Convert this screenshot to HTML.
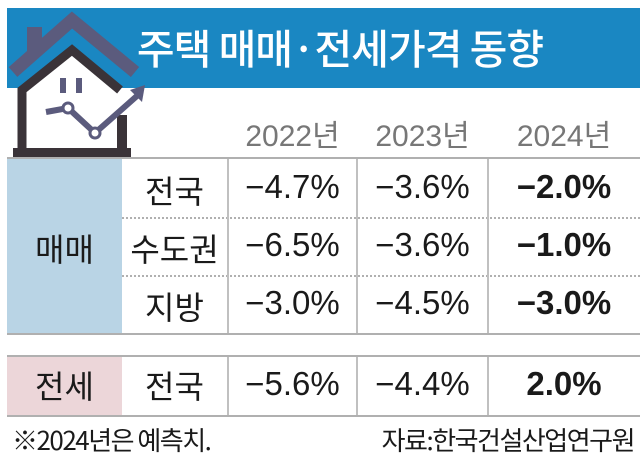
<!DOCTYPE html>
<html><head><meta charset="utf-8"><style>
body{margin:0;width:640px;height:467px;background:#fff;position:relative;overflow:hidden;font-family:"Liberation Sans Narrow","Liberation Sans","Noto Sans CJK KR",sans-serif;}
.a{position:absolute;}
.t{position:absolute;text-align:center;font-family:"Liberation Sans Narrow","Liberation Sans","Noto Sans CJK KR",sans-serif;color:#1a1a1a;}
.h{height:0;border-top:2px solid #b0b0b0;}
.d{height:0;border-top:2px dotted #b0b0b0;}
.v{width:0;border-left:2px solid #c0c0c0;}
</style></head><body>
<div class="a" style="left:7px;top:8px;width:633px;height:80px;background:#1a87c2"></div>
<div class="t" style="left:130px;top:19px;width:420px;font-size:41px;color:#fff;font-family:'Noto Sans CJK KR',sans-serif;line-height:54px;font-weight:500;letter-spacing:-1px">주택 매매·전세가격 동향</div>
<svg class="a" style="left:0;top:0" width="160" height="160">
<polyline points="13,72 72,20 135,72" fill="none" stroke="#5b5b7d" stroke-width="13" stroke-linejoin="miter"/>
<rect x="27" y="27" width="15" height="25" fill="#5b5b7d"/>
<polygon points="20,152 20,90 72,50 120,90 120,152" fill="#fff"/>
<polyline points="22,152 22,90 72,50 120,90" fill="none" stroke="#3a3338" stroke-width="9"/>
<rect x="117" y="115" width="10" height="40" fill="#3a3338"/>
<rect x="13" y="148" width="118" height="10" fill="#3a3338"/>
<rect x="60" y="78" width="6" height="15" fill="#5b5b7d"/><rect x="76" y="78" width="6" height="15" fill="#5b5b7d"/>
<polyline points="46,112 68,108 95,133 138,95" fill="none" stroke="#5b5b7d" stroke-width="6"/>
<polygon points="130,90 145,85 142,102" fill="#5b5b7d"/>
<circle cx="68" cy="108" r="5" fill="#fff" stroke="#5b5b7d" stroke-width="3"/>
<circle cx="95" cy="133" r="5" fill="#fff" stroke="#5b5b7d" stroke-width="3"/>
</svg>
<div class="t" style="left:228px;top:111px;width:129px;font-size:30px;color:#777">2022년</div>
<div class="t" style="left:357px;top:111px;width:131px;font-size:30px;color:#777">2023년</div>
<div class="t" style="left:488px;top:111px;width:152px;font-size:30px;color:#777">2024년</div>
<div class="a h" style="left:7px;top:157px;width:633px"></div>
<div class="a" style="left:7px;top:159px;width:115px;height:174px;background:#b9d4e5"></div>
<div class="a d" style="left:122px;top:217px;width:518px"></div>
<div class="a d" style="left:122px;top:275px;width:518px"></div>
<div class="a h" style="left:7px;top:333px;width:633px"></div>
<div class="a v" style="left:227px;top:159px;height:174px"></div>
<div class="a v" style="left:356px;top:159px;height:174px"></div>
<div class="a v" style="left:487px;top:159px;height:174px"></div>
<div class="a h" style="left:7px;top:355px;width:633px"></div>
<div class="a" style="left:7px;top:357px;width:115px;height:58px;background:#ecd6d9"></div>
<div class="a h" style="left:7px;top:415px;width:633px"></div>
<div class="a v" style="left:227px;top:357px;height:58px"></div>
<div class="a v" style="left:356px;top:357px;height:58px"></div>
<div class="a v" style="left:487px;top:357px;height:58px"></div>
<div class="t" style="left:7px;top:225px;width:115px;font-size:32px;font-family:'Noto Sans CJK KR',sans-serif">매매</div>
<div class="t" style="left:122px;top:167px;width:105px;font-size:32px;font-family:'Noto Sans CJK KR',sans-serif">전국</div>
<div class="t" style="left:122px;top:225px;width:105px;font-size:32px;font-family:'Noto Sans CJK KR',sans-serif">수도권</div>
<div class="t" style="left:122px;top:283px;width:105px;font-size:32px;font-family:'Noto Sans CJK KR',sans-serif">지방</div>
<div class="t" style="left:7px;top:362px;width:115px;font-size:32px;font-family:'Noto Sans CJK KR',sans-serif">전세</div>
<div class="t" style="left:122px;top:362px;width:105px;font-size:32px;font-family:'Noto Sans CJK KR',sans-serif">전국</div>
<div class="t" style="left:228px;top:168px;width:129px;font-size:33px">−4.7%</div>
<div class="t" style="left:357px;top:168px;width:131px;font-size:33px">−3.6%</div>
<div class="t" style="left:488px;top:168px;width:152px;font-size:33px;font-weight:bold">−2.0%</div>
<div class="t" style="left:228px;top:226px;width:129px;font-size:33px">−6.5%</div>
<div class="t" style="left:357px;top:226px;width:131px;font-size:33px">−3.6%</div>
<div class="t" style="left:488px;top:226px;width:152px;font-size:33px;font-weight:bold">−1.0%</div>
<div class="t" style="left:228px;top:284px;width:129px;font-size:33px">−3.0%</div>
<div class="t" style="left:357px;top:284px;width:131px;font-size:33px">−4.5%</div>
<div class="t" style="left:488px;top:284px;width:152px;font-size:33px;font-weight:bold">−3.0%</div>
<div class="t" style="left:228px;top:365px;width:129px;font-size:33px">−5.6%</div>
<div class="t" style="left:357px;top:365px;width:131px;font-size:33px">−4.4%</div>
<div class="t" style="left:488px;top:365px;width:152px;font-size:33px;font-weight:bold">2.0%</div>
<div class="a" style="left:12px;top:422px;font-size:26px;color:#1a1a1a;font-family:'Noto Sans CJK KR',sans-serif;line-height:36px;letter-spacing:-1.5px">※2024년은 예측치.</div>
<div class="a" style="right:6px;top:422px;font-size:26px;color:#1a1a1a;font-family:'Noto Sans CJK KR',sans-serif;line-height:36px;letter-spacing:-1.5px">자료:한국건설산업연구원</div>
</body></html>
